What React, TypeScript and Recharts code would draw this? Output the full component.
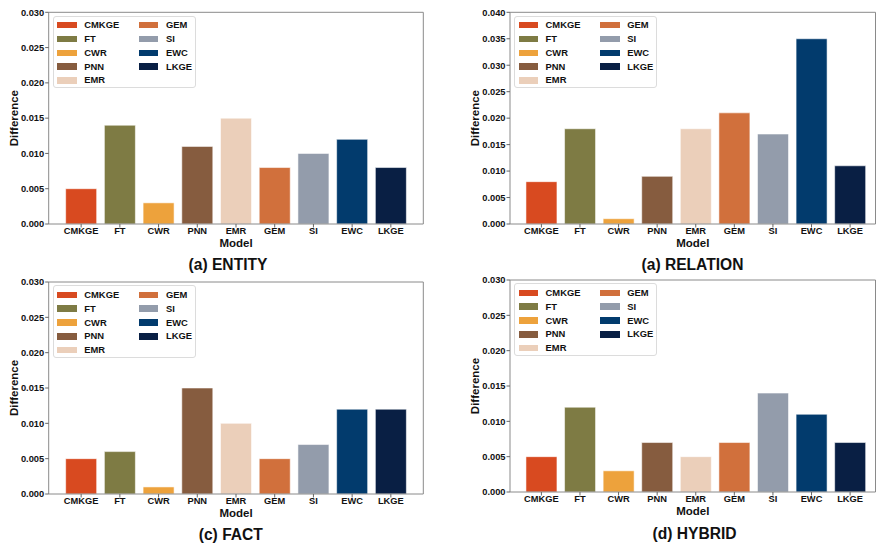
import React from 'react';
import { BarChart, Bar, Cell, XAxis, YAxis, Legend, CartesianGrid } from 'recharts';

const MODELS = ['CMKGE', 'FT', 'CWR', 'PNN', 'EMR', 'GEM', 'SI', 'EWC', 'LKGE'];
const COLORS = ['#d84a20', '#7e7b44', '#eda23c', '#865c3f', '#ebcfba', '#d1703c', '#939cab', '#023b6d', '#091f44'];

const ENTITY = [0.005, 0.014, 0.003, 0.011, 0.015, 0.008, 0.01, 0.012, 0.008];
const RELATION = [0.008, 0.018, 0.001, 0.009, 0.018, 0.021, 0.017, 0.035, 0.011];
const FACT = [0.005, 0.006, 0.001, 0.015, 0.01, 0.005, 0.007, 0.012, 0.012];
const HYBRID = [0.005, 0.012, 0.003, 0.007, 0.005, 0.007, 0.014, 0.011, 0.007];

const TICKS_30 = [0, 0.005, 0.01, 0.015, 0.02, 0.025, 0.03];
const TICKS_40 = [0, 0.005, 0.01, 0.015, 0.02, 0.025, 0.03, 0.035, 0.04];

const FONT = '"Liberation Sans", Arial, sans-serif';
const SPINE = '#8a8a8a';

function LegendBox() {
  return (
    <div
      style={{
        boxSizing: 'border-box',
        width: 143,
        height: 72.5,
        background: 'rgba(255,255,255,0.85)',
        border: '1px solid #dcdcdc',
        borderRadius: 3,
        paddingLeft: 3.3,
        paddingTop: 1.6,
        display: 'grid',
        gridTemplateColumns: '81.7px auto',
        gridTemplateRows: 'repeat(5, 13.8px)',
        gridAutoFlow: 'column',
        fontFamily: FONT,
        fontWeight: 700,
        fontSize: 9.4,
        color: '#111',
        textAlign: 'left',
      }}
    >
      {MODELS.map((m, i) => (
        <div key={m} style={{ display: 'flex', alignItems: 'center' }}>
          <span style={{ width: 19.3, height: 6.5, background: COLORS[i], marginRight: 7.7, display: 'inline-block' }} />
          <span style={{ lineHeight: '13.8px' }}>{m}</span>
        </div>
      ))}
    </div>
  );
}

function YTitle(props: any) {
  const vb = props.viewBox;
  const x = vb.x + vb.width - 35;
  const y = vb.y + vb.height / 2;
  return (
    <text
      x={x}
      y={y}
      transform={`rotate(-90, ${x}, ${y})`}
      textAnchor="middle"
      dominantBaseline="central"
      fontFamily={FONT}
      fontWeight={700}
      fontSize={11.5}
      fill="#111"
    >
      Difference
    </text>
  );
}

function XTitle(props: any) {
  const vb = props.viewBox;
  return (
    <text
      x={vb.x + vb.width / 2}
      y={vb.y + 18.5}
      textAnchor="middle"
      dominantBaseline="central"
      fontFamily={FONT}
      fontWeight={700}
      fontSize={11.5}
      fill="#111"
    >
      Model
    </text>
  );
}

interface PanelProps {
  values: number[];
  ticks: number[];
  left: number;
  top: number;
  width: number;
  height: number;
  yWidth: number;
  marginTop: number;
  marginRight: number;
  padL: number;
  padR: number;
}

function Panel(p: PanelProps) {
  const data = MODELS.map((m, i) => ({ model: m, value: p.values[i] }));
  const max = p.ticks[p.ticks.length - 1];
  const tickStyle = { fill: '#111', fontSize: 9.3, fontWeight: 700, fontFamily: FONT };
  return (
    <div style={{ position: 'absolute', left: p.left, top: p.top }}>
      <BarChart
        width={p.width}
        height={p.height}
        data={data}
        barCategoryGap="10%"
        margin={{ top: p.marginTop, right: p.marginRight, left: 0, bottom: 0 }}
      >
        {/* top and right spines */}
        <CartesianGrid
          stroke={SPINE}
          strokeWidth={1}
          horizontalCoordinatesGenerator={(g: any) => [g.offset.top]}
          verticalCoordinatesGenerator={(g: any) => [g.offset.left + g.offset.width]}
        />
        <XAxis
          dataKey="model"
          height={48}
          padding={{ left: p.padL, right: p.padR }}
          stroke={SPINE}
          tickSize={3.5}
          tickMargin={0}
          tickLine={{ stroke: '#666' }}
          tick={tickStyle}
          interval={0}
          label={<XTitle />}
        />
        <YAxis
          domain={[0, max]}
          ticks={p.ticks}
          width={p.yWidth}
          stroke={SPINE}
          tickSize={3.5}
          tickMargin={1}
          tickLine={{ stroke: '#666' }}
          tick={tickStyle}
          tickFormatter={(v: number) => v.toFixed(3)}
          label={<YTitle />}
        />
        <Legend
          layout="horizontal"
          verticalAlign="middle"
          align="center"
          wrapperStyle={{ top: p.marginTop + 3.4, left: p.yWidth + 4.3, width: 'auto', height: 'auto' }}
          content={() => <LegendBox />}
        />
        <Bar dataKey="value" isAnimationActive={false} stroke="#ffffff" strokeOpacity={0.55} strokeWidth={1}>
          {data.map((d, i) => (
            <Cell key={d.model} fill={COLORS[i]} />
          ))}
        </Bar>
      </BarChart>
    </div>
  );
}

function Title({ text, cx, cy }: { text: string; cx: number; cy: number }) {
  return (
    <div
      style={{
        position: 'absolute',
        left: cx - 100,
        top: cy - 10,
        width: 200,
        height: 20,
        lineHeight: '20px',
        textAlign: 'center',
        fontFamily: FONT,
        fontWeight: 700,
        fontSize: 15.6,
        color: '#111',
      }}
    >
      {text}
    </div>
  );
}

export default function App() {
  return (
    <div style={{ position: 'absolute', left: 0, top: 0, width: 876, height: 544, background: '#fff', overflow: 'hidden' }}>
      <Panel values={ENTITY} ticks={TICKS_30} left={0} top={0} width={438} height={272} yWidth={48.7} marginTop={12.3} marginRight={14.7} padL={13.1} padR={13.1} />
      <Panel values={RELATION} ticks={TICKS_40} left={438} top={0} width={438} height={272} yWidth={72} marginTop={12.3} marginRight={0.5} padL={12.1} padR={6.1} />
      <Panel values={FACT} ticks={TICKS_30} left={0} top={272} width={438} height={270} yWidth={48.7} marginTop={10} marginRight={14.7} padL={13.1} padR={13.1} />
      <Panel values={HYBRID} ticks={TICKS_30} left={438} top={272} width={438} height={268} yWidth={72} marginTop={8} marginRight={0.5} padL={12.1} padR={6.1} />
      <Title text="(a) ENTITY" cx={228} cy={265} />
      <Title text="(a) RELATION" cx={692.5} cy={265} />
      <Title text="(c) FACT" cx={230.8} cy={535} />
      <Title text="(d) HYBRID" cx={694.5} cy={533.7} />
    </div>
  );
}
